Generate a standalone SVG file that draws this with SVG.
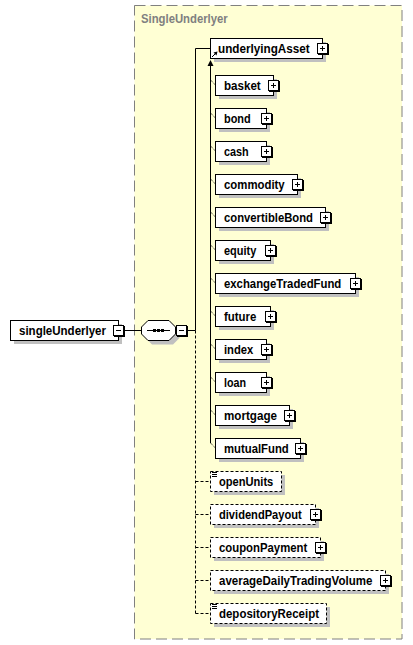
<svg xmlns="http://www.w3.org/2000/svg" xmlns:xlink="http://www.w3.org/1999/xlink" width="413" height="645" viewBox="0 0 413 645">
<style>
.box{fill:#fff;stroke:#000;stroke-width:1}
.opt{stroke-dasharray:3,2}
.sh{fill:#c0c0c0}
.t{font-family:"Liberation Sans",Arial,sans-serif;font-size:12px;font-weight:bold;fill:#000}
.ln{stroke:#000;stroke-width:1;fill:none}
.dl{stroke-dasharray:3,2}
.tick{stroke:#000;stroke-width:1;stroke-dasharray:1,1;fill:none}
</style>
<defs>
<g id="plus">
<rect x="1" y="1" width="11" height="11" fill="#000"/>
<rect x="0.5" y="0.5" width="10" height="10" fill="#fff" stroke="#000"/>
<path d="M3 5.5H8M5.5 3V8" stroke="#000"/>
</g>
<g id="minus">
<rect x="1" y="1" width="11" height="11" fill="#000"/>
<rect x="0.5" y="0.5" width="10" height="10" fill="#fff" stroke="#000"/>
<path d="M3 5.5H8" stroke="#000"/>
</g>
<g id="txticon">
<path d="M0 0.5H5M0 2.5H5M0 4.5H5" stroke="#000"/>
</g>
</defs>

<g id="frame">
<rect x="134.5" y="5.5" width="267.5" height="633.5" fill="#ffffd4" stroke="#808080" stroke-dasharray="11,5"/>
<text x="141" y="23" class="t" style="fill:#808080" textLength="86.7" lengthAdjust="spacingAndGlyphs">SingleUnderlyer</text>
</g>

<g id="connectors">
<path class="ln" d="M123.5 330.5H141.5M186.5 330.5H195.5M195.5 48.5V330.5M195.5 48.5H210.5"/>
<path class="ln dl" d="M195.5 330.5V613.5M195.5 481.5H210.5M195.5 514.5H210.5M195.5 547.5H210.5M195.5 580.5H210.5M195.5 613.5H210.5"/>
<path class="ln" d="M210.5 64V443"/>
<polygon points="210.5,60 207.5,66 213.5,66" fill="#000"/>
<path class="tick" d="M210.5 80L215.5 85M210.5 113L215.5 118M210.5 146L215.5 151M210.5 179L215.5 184M210.5 212L215.5 217M210.5 245L215.5 250M210.5 278L215.5 283M210.5 311L215.5 316M210.5 344L215.5 349M210.5 377L215.5 382M210.5 410L215.5 415M210.5 443L215.5 448"/>
</g>

<g id="singleUnderlyer">
<rect class="sh" x="14" y="324" width="108" height="20"/>
<rect class="box" x="10.5" y="320.5" width="108" height="20"/>
<text class="t" x="19" y="335" textLength="87" lengthAdjust="spacingAndGlyphs">singleUnderlyer</text>
<use xlink:href="#minus" x="113" y="325"/>
</g>

<g id="sequence">
<polygon class="sh" points="152,324.5 173,324.5 179.5,331 179.5,338 173,344.5 152,344.5 145.5,338 145.5,331"/>
<polygon class="box" points="148,320.5 169,320.5 175.5,327 175.5,334 169,340.5 148,340.5 141.5,334 141.5,327"/>
<path class="ln" d="M147 330.5H170"/>
<rect x="153" y="329" width="3" height="3" fill="#000"/>
<rect x="157" y="329" width="3" height="3" fill="#000"/>
<rect x="161" y="329" width="3" height="3" fill="#000"/>
<use xlink:href="#minus" x="176" y="325"/>
</g>

<g id="underlyingAsset">
<rect class="sh" x="214" y="42" width="112" height="20"/>
<rect class="box" x="210.5" y="38.5" width="112" height="20"/>
<path d="M212 57L215.5 53.5" stroke="#000"/>
<polygon points="217.5,51.5 213.5,52.5 216.5,55.5" fill="#000"/>
<text class="t" x="218" y="52.5" textLength="91.7" lengthAdjust="spacingAndGlyphs">underlyingAsset</text>
<use xlink:href="#plus" x="317" y="43"/>
</g>

<g id="basket">
<rect class="sh" x="219" y="79" width="58" height="20"/>
<rect class="box" x="215.5" y="75.5" width="58" height="20"/>
<text class="t" x="224" y="89.5" textLength="36.7" lengthAdjust="spacingAndGlyphs">basket</text>
<use xlink:href="#plus" x="268" y="80"/>
</g>

<g id="bond">
<rect class="sh" x="219" y="112" width="51" height="20"/>
<rect class="box" x="215.5" y="108.5" width="51" height="20"/>
<text class="t" x="224" y="122.5" textLength="26.7" lengthAdjust="spacingAndGlyphs">bond</text>
<use xlink:href="#plus" x="261" y="113"/>
</g>

<g id="cash">
<rect class="sh" x="219" y="145" width="51" height="20"/>
<rect class="box" x="215.5" y="141.5" width="51" height="20"/>
<text class="t" x="224" y="155.5" textLength="24.7" lengthAdjust="spacingAndGlyphs">cash</text>
<use xlink:href="#plus" x="261" y="146"/>
</g>

<g id="commodity">
<rect class="sh" x="219" y="178" width="82" height="20"/>
<rect class="box" x="215.5" y="174.5" width="82" height="20"/>
<text class="t" x="224" y="188.5" textLength="60.7" lengthAdjust="spacingAndGlyphs">commodity</text>
<use xlink:href="#plus" x="292" y="179"/>
</g>

<g id="convertibleBond">
<rect class="sh" x="219" y="211" width="110" height="20"/>
<rect class="box" x="215.5" y="207.5" width="110" height="20"/>
<text class="t" x="224" y="221.5" textLength="89" lengthAdjust="spacingAndGlyphs">convertibleBond</text>
<use xlink:href="#plus" x="320" y="212"/>
</g>

<g id="equity">
<rect class="sh" x="219" y="244" width="55" height="20"/>
<rect class="box" x="215.5" y="240.5" width="55" height="20"/>
<text class="t" x="224" y="254.5" textLength="32.3" lengthAdjust="spacingAndGlyphs">equity</text>
<use xlink:href="#plus" x="265" y="245"/>
</g>

<g id="exchangeTradedFund">
<rect class="sh" x="219" y="277" width="140" height="20"/>
<rect class="box" x="215.5" y="273.5" width="140" height="20"/>
<text class="t" x="224" y="287.5" textLength="117.3" lengthAdjust="spacingAndGlyphs">exchangeTradedFund</text>
<use xlink:href="#plus" x="350" y="278"/>
</g>

<g id="future">
<rect class="sh" x="219" y="310" width="55" height="20"/>
<rect class="box" x="215.5" y="306.5" width="55" height="20"/>
<text class="t" x="224" y="320.5" textLength="32.3" lengthAdjust="spacingAndGlyphs">future</text>
<use xlink:href="#plus" x="265" y="311"/>
</g>

<g id="index">
<rect class="sh" x="219" y="343" width="51" height="20"/>
<rect class="box" x="215.5" y="339.5" width="51" height="20"/>
<text class="t" x="224" y="353.5" textLength="29.3" lengthAdjust="spacingAndGlyphs">index</text>
<use xlink:href="#plus" x="261" y="344"/>
</g>

<g id="loan">
<rect class="sh" x="219" y="376" width="51" height="20"/>
<rect class="box" x="215.5" y="372.5" width="51" height="20"/>
<text class="t" x="224" y="386.5" textLength="22" lengthAdjust="spacingAndGlyphs">loan</text>
<use xlink:href="#plus" x="261" y="377"/>
</g>

<g id="mortgage">
<rect class="sh" x="219" y="409" width="74" height="20"/>
<rect class="box" x="215.5" y="405.5" width="74" height="20"/>
<text class="t" x="224" y="419.5" textLength="53" lengthAdjust="spacingAndGlyphs">mortgage</text>
<use xlink:href="#plus" x="284" y="410"/>
</g>

<g id="mutualFund">
<rect class="sh" x="219" y="442" width="85" height="20"/>
<rect class="box" x="215.5" y="438.5" width="85" height="20"/>
<text class="t" x="224" y="452.5" textLength="64.7" lengthAdjust="spacingAndGlyphs">mutualFund</text>
<use xlink:href="#plus" x="295" y="443"/>
</g>

<g id="openUnits">
<rect class="sh" x="214" y="475" width="71" height="20"/>
<rect class="box opt" x="210.5" y="471.5" width="71" height="20"/>
<use xlink:href="#txticon" x="212" y="472"/>
<text class="t" x="219" y="485.5" textLength="54.3" lengthAdjust="spacingAndGlyphs">openUnits</text>
</g>

<g id="dividendPayout">
<rect class="sh" x="214" y="508" width="105" height="20"/>
<rect class="box opt" x="210.5" y="504.5" width="105" height="20"/>
<text class="t" x="219" y="518.5" textLength="82.7" lengthAdjust="spacingAndGlyphs">dividendPayout</text>
<use xlink:href="#plus" x="310" y="509"/>
</g>

<g id="couponPayment">
<rect class="sh" x="214" y="541" width="110" height="20"/>
<rect class="box opt" x="210.5" y="537.5" width="110" height="20"/>
<text class="t" x="219" y="551.5" textLength="88.3" lengthAdjust="spacingAndGlyphs">couponPayment</text>
<use xlink:href="#plus" x="315" y="542"/>
</g>

<g id="averageDailyTradingVolume">
<rect class="sh" x="214" y="574" width="175" height="20"/>
<rect class="box opt" x="210.5" y="570.5" width="175" height="20"/>
<text class="t" x="219" y="584.5" textLength="153.3" lengthAdjust="spacingAndGlyphs">averageDailyTradingVolume</text>
<use xlink:href="#plus" x="380" y="575"/>
</g>

<g id="depositoryReceipt">
<rect class="sh" x="214" y="607" width="116" height="20"/>
<rect class="box opt" x="210.5" y="603.5" width="116" height="20"/>
<use xlink:href="#txticon" x="212" y="604"/>
<text class="t" x="219" y="617.5" textLength="100" lengthAdjust="spacingAndGlyphs">depositoryReceipt</text>
</g>
</svg>
